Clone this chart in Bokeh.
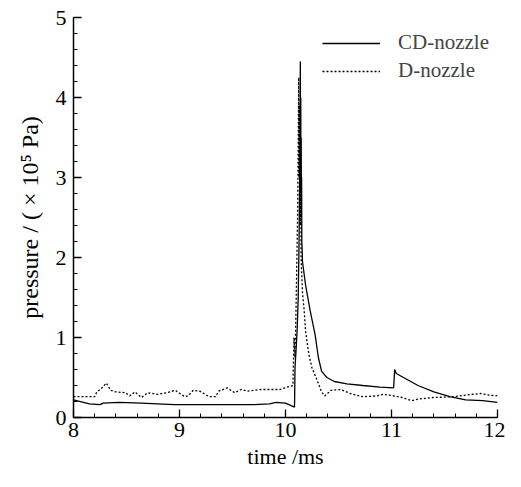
from bokeh.plotting import figure
from bokeh.models import SingleIntervalTicker, Range1d, Legend, LegendItem
from bokeh.embed import file_html
from bokeh.resources import INLINE

# CD-nozzle (solid)
cd_t = [8.0, 8.15, 8.25, 8.28, 8.43, 8.64, 8.95, 9.4, 9.7, 9.85,
        9.91, 10.0, 10.085, 10.09, 10.10, 10.11, 10.12, 10.128, 10.133, 10.137,
        10.14, 10.142, 10.144, 10.146, 10.148, 10.150, 10.152, 10.154, 10.157, 10.16,
        10.19, 10.235, 10.28, 10.31, 10.34, 10.39, 10.46, 10.58, 10.73, 10.89,
        11.02, 11.03, 11.045, 11.1, 11.25, 11.4, 11.55, 11.7, 11.86, 12.0]
cd_p = [0.22, 0.17, 0.16, 0.18, 0.19, 0.18, 0.16, 0.16, 0.16, 0.17,
        0.19, 0.18, 0.13, 0.63, 0.85, 1.1, 1.5, 2.2, 2.9, 3.6,
        4.45, 3.2, 4.0, 2.8, 3.5, 2.5, 3.0, 2.2, 2.1, 1.95,
        1.65, 1.32, 1.03, 0.75, 0.58, 0.5, 0.45, 0.42, 0.40, 0.38,
        0.37, 0.60, 0.55, 0.51, 0.40, 0.32, 0.26, 0.22, 0.21, 0.19]

# D-nozzle (dotted)
d_t = [8.0, 8.2, 8.22, 8.26, 8.31, 8.35, 8.4, 8.49, 8.53, 8.58,
       8.64, 8.7, 8.79, 8.88, 8.96, 9.05, 9.08, 9.13, 9.19, 9.28,
       9.34, 9.37, 9.45, 9.52, 9.58, 9.64, 9.77, 9.95, 10.04, 10.07,
       10.08, 10.09, 10.10, 10.115, 10.125, 10.128, 10.131, 10.134, 10.137, 10.14,
       10.143, 10.147, 10.16, 10.175, 10.19, 10.22, 10.25, 10.3, 10.34, 10.37,
       10.43, 10.52, 10.61, 10.73, 10.86, 10.92, 10.98, 11.1, 11.19, 11.25,
       11.4, 11.59, 11.7, 11.84, 11.92, 12.0]
d_p = [0.26, 0.26, 0.32, 0.36, 0.43, 0.34, 0.32, 0.31, 0.27, 0.32,
       0.25, 0.31, 0.29, 0.31, 0.34, 0.26, 0.27, 0.34, 0.33, 0.26,
       0.26, 0.33, 0.37, 0.31, 0.35, 0.33, 0.35, 0.35, 0.39, 0.40,
       1.0, 0.75, 1.4, 2.6, 4.25, 3.0, 3.9, 2.7, 3.6, 2.4,
       3.1, 2.0, 1.56, 1.36, 1.07, 0.79, 0.62, 0.46, 0.32, 0.27,
       0.34, 0.35, 0.30, 0.26, 0.27, 0.29, 0.28, 0.25, 0.21, 0.23,
       0.25, 0.26, 0.28, 0.30, 0.28, 0.27]

labels = ["CD-nozzle", "D-nozzle"]
FONT = "Liberation Serif"

p = figure(width=505, height=471, output_backend="svg", toolbar_location=None,
           x_range=Range1d(8, 12), y_range=Range1d(0, 5),
           min_border_left=73, min_border_right=8, min_border_top=17, min_border_bottom=48)
p.outline_line_color = None
p.xgrid.visible = False
p.ygrid.visible = False
p.background_fill_color = "white"
p.border_fill_color = "white"

r1 = p.line(cd_t, cd_p, line_color="black", line_width=1.3)
r2 = p.line(d_t, d_p, line_color="black", line_width=1.3, line_dash="2 2")

p.xaxis.ticker = SingleIntervalTicker(interval=1, num_minor_ticks=5)
p.yaxis.ticker = SingleIntervalTicker(interval=1, num_minor_ticks=5)
p.xaxis.axis_label = "time /ms"
p.yaxis.axis_label = "pressure / ( × 10⁵ Pa)"
for ax in (p.xaxis[0], p.yaxis[0]):
    ax.axis_line_color = "black"
    ax.axis_line_width = 1.5
    ax.major_tick_in = 8
    ax.major_tick_out = 0
    ax.minor_tick_in = 4
    ax.minor_tick_out = 0
    ax.major_tick_line_width = 1.3
    ax.minor_tick_line_width = 1.0
    ax.major_label_text_font = FONT
    ax.major_label_text_font_size = "22px"
    ax.major_label_text_color = "black"
    ax.axis_label_text_font = FONT
    ax.axis_label_text_font_style = "normal"
    ax.axis_label_text_color = "black"
p.xaxis.axis_label_text_font_size = "22px"
p.yaxis.axis_label_text_font_size = "24px"
p.xaxis.major_label_standoff = 5
p.xaxis.axis_label_standoff = 4
p.yaxis.major_label_standoff = 7
p.yaxis.axis_label_standoff = 10

legend = Legend(items=[LegendItem(label=labels[0], renderers=[r1]),
                       LegendItem(label=labels[1], renderers=[r2])],
                location=(249, 334), border_line_color=None,
                background_fill_alpha=0, padding=0, margin=0,
                glyph_width=58, glyph_height=20, label_height=20,
                label_standoff=18, spacing=3,
                label_text_font=FONT, label_text_font_size="21px")
p.add_layout(legend)

open("out.html", "w").write(file_html(p, INLINE))
